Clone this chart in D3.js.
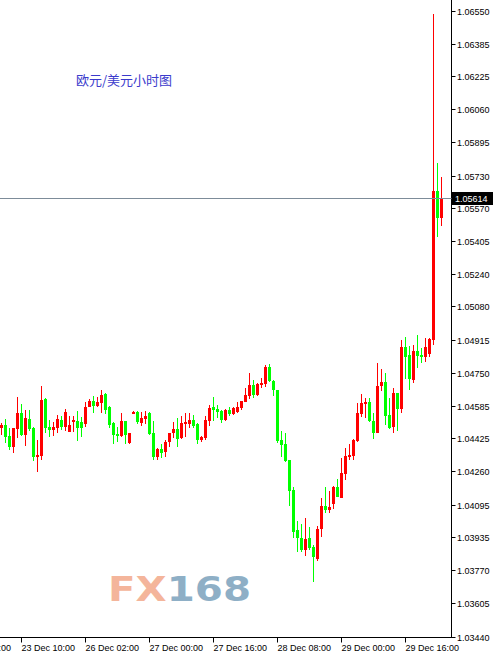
<!DOCTYPE html>
<html>
<head>
<meta charset="utf-8">
<script src="https://cdn.jsdelivr.net/npm/d3@7"></script>
<style>
  html, body { margin: 0; padding: 0; background: #fff; }
  #vis { width: 493px; height: 657px; }
  text { font-family: "Liberation Sans", Arial, sans-serif; }
</style>
</head>
<body>
<div id="vis"></div>
<script>
// EUR/USD hourly candles, bar index 0..110
const opens = [
  1.04478,1.04491,1.04438,1.04380,1.04471,1.04550,1.04441,1.04519,1.04478,1.04333,
  1.04338,1.04620,1.04481,1.04466,1.04478,1.04516,1.04483,1.04458,1.04506,1.04511,
  1.04508,1.04500,1.04582,1.04610,1.04585,1.04602,1.04645,1.04582,1.04500,1.04446,
  1.04436,1.04511,1.04398,1.04545,1.04557,1.04503,1.04521,1.04552,1.04453,1.04333,
  1.04371,1.04355,1.04405,1.04451,1.04471,1.04425,1.04496,1.04495,1.04516,1.04496,
  1.04419,1.04428,1.04513,1.04579,1.04570,1.04560,1.04516,1.04565,1.04545,1.04557,
  1.04577,1.04607,1.04637,1.04690,1.04640,1.04690,1.04693,1.04777,1.04709,1.04665,
  1.04416,1.04395,1.04317,1.04168,1.03969,1.03928,1.03870,1.03928,1.03883,1.03823,
  1.03973,1.04088,1.04068,1.04098,1.04184,1.04132,1.04251,1.04333,1.04338,1.04411,
  1.04549,1.04595,1.04607,1.04511,1.04450,1.04681,1.04703,1.04541,1.04478,1.04648,
  1.04570,1.04880,1.04838,1.04714,1.04860,1.04838,1.04830,1.04843,1.04913,1.05653,
  1.05518
];
const highs = [
  1.04503,1.04521,1.04475,1.04478,1.04632,1.04597,1.04565,1.04565,1.04483,1.04416,
  1.04686,1.04624,1.04516,1.04508,1.04541,1.04536,1.04569,1.04536,1.04536,1.04562,
  1.04532,1.04607,1.04619,1.04635,1.04632,1.04665,1.04651,1.04587,1.04508,1.04483,
  1.04552,1.04513,1.04453,1.04562,1.04560,1.04557,1.04560,1.04557,1.04511,1.04374,
  1.04396,1.04416,1.04453,1.04508,1.04527,1.04536,1.04549,1.04549,1.04541,1.04503,
  1.04438,1.04536,1.04590,1.04630,1.04590,1.04565,1.04568,1.04582,1.04582,1.04607,
  1.04612,1.04673,1.04748,1.04714,1.04701,1.04722,1.04789,1.04793,1.04714,1.04667,
  1.04461,1.04450,1.04319,1.04184,1.04016,1.04000,1.04027,1.03985,1.03894,1.03989,
  1.04127,1.04184,1.04165,1.04187,1.04222,1.04325,1.04375,1.04396,1.04421,1.04602,
  1.04645,1.04624,1.04624,1.04549,1.04797,1.04767,1.04751,1.04624,1.04673,1.04651,
  1.04913,1.04926,1.04883,1.04888,1.04938,1.04871,1.04921,1.04921,1.06532,1.05794,
  1.05724
];
const lows = [
  1.04441,1.04403,1.04366,1.04353,1.04425,1.04436,1.04386,1.04461,1.04314,1.04259,
  1.04317,1.04453,1.04433,1.04436,1.04453,1.04466,1.04461,1.04456,1.04458,1.04413,
  1.04430,1.04480,1.04579,1.04549,1.04579,1.04549,1.04544,1.04478,1.04396,1.04408,
  1.04433,1.04395,1.04396,1.04544,1.04496,1.04488,1.04498,1.04443,1.04317,1.04318,
  1.04328,1.04331,1.04380,1.04428,1.04383,1.04423,1.04430,1.04475,1.04475,1.04395,
  1.04406,1.04416,1.04486,1.04513,1.04527,1.04503,1.04513,1.04537,1.04541,1.04549,
  1.04565,1.04604,1.04620,1.04624,1.04637,1.04673,1.04681,1.04703,1.04637,1.04400,
  1.04333,1.04309,1.04090,1.03928,1.03859,1.03859,1.03842,1.03870,1.03713,1.03817,
  1.03936,1.04052,1.04052,1.04073,1.04132,1.04127,1.04217,1.04317,1.04317,1.04408,
  1.04529,1.04524,1.04508,1.04419,1.04449,1.04661,1.04491,1.04470,1.04450,1.04463,
  1.04552,1.04718,1.04665,1.04701,1.04772,1.04798,1.04805,1.04830,1.04888,1.05423,
  1.05481
];
const closes = [
  1.04491,1.04433,1.04383,1.04475,1.04550,1.04441,1.04527,1.04470,1.04333,1.04341,
  1.04615,1.04478,1.04466,1.04483,1.04521,1.04483,1.04557,1.04491,1.04516,1.04478,
  1.04480,1.04582,1.04610,1.04585,1.04607,1.04640,1.04565,1.04491,1.04441,1.04438,
  1.04511,1.04441,1.04450,1.04555,1.04508,1.04527,1.04536,1.04446,1.04333,1.04371,
  1.04353,1.04405,1.04451,1.04471,1.04421,1.04500,1.04508,1.04516,1.04486,1.04416,
  1.04433,1.04516,1.04577,1.04565,1.04557,1.04516,1.04565,1.04545,1.04574,1.04582,
  1.04610,1.04640,1.04690,1.04640,1.04694,1.04698,1.04777,1.04706,1.04665,1.04411,
  1.04391,1.04312,1.04163,1.03961,1.03928,1.03870,1.03924,1.03879,1.03834,1.03973,
  1.04088,1.04068,1.04085,1.04184,1.04135,1.04254,1.04338,1.04341,1.04416,1.04549,
  1.04602,1.04607,1.04513,1.04453,1.04685,1.04703,1.04536,1.04478,1.04648,1.04570,
  1.04880,1.04830,1.04718,1.04860,1.04833,1.04830,1.04878,1.04916,1.05653,1.05518,
  1.05614
];

// time axis: bar index of each label
const timeLabels = ["22 Dec 18:00", "23 Dec 10:00", "26 Dec 02:00", "27 Dec 00:00",
                    "27 Dec 16:00", "28 Dec 08:00", "29 Dec 00:00", "29 Dec 16:00"];
const timeLabelBars = [-11, 5, 21, 37, 53, 69, 85, 101];

const priceLabels = ["1.06550","1.06385","1.06225","1.06060","1.05895","1.05730","1.05570",
                     "1.05405","1.05240","1.05080","1.04915","1.04750","1.04585","1.04425",
                     "1.04260","1.04095","1.03935","1.03770","1.03605","1.03440"];

const title = "欧元/美元小时图";

const width = 493, height = 657;
const plotRight = 451.5, plotBottom = 637.5;
const upColor = "#ff0000", downColor = "#00ff00";

const svg = d3.select("#vis").append("svg")
  .attr("width", width)
  .attr("height", height)
  .style("display", "block");

svg.append("rect").attr("width", width).attr("height", height).attr("fill", "#fff");

const x = d3.scaleLinear().domain([0, opens.length - 1]).range([1.5, 441.5]);
const y = d3.scaleLinear().domain([1.0344, 1.0655]).range([636.5, 10.5]);

// watermark
const wm = svg.append("text")
  .attr("x", 108).attr("y", 601)
  .attr("textLength", 143)
  .attr("lengthAdjust", "spacingAndGlyphs")
  .style("font-family", "'DejaVu Sans', sans-serif")
  .style("font-weight", "bold")
  .style("font-size", "34px");
wm.append("tspan").attr("fill", "#f4b59b").text("FX");
wm.append("tspan").attr("fill", "#8eafc6").text("168");

// title
svg.append("text")
  .attr("x", 76).attr("y", 85)
  .attr("fill", "#3b3bcc")
  .style("font-family", "'Noto Sans CJK SC', sans-serif")
  .style("font-size", "13px")
  .text(title);

// candles
const bars = d3.range(opens.length);
const g = svg.append("g").attr("shape-rendering", "crispEdges");

g.selectAll(".wick").data(bars).enter()
  .append("line")
  .attr("class", "wick")
  .attr("x1", i => x(i)).attr("x2", i => x(i))
  .attr("y1", i => y(highs[i])).attr("y2", i => y(lows[i]))
  .attr("stroke", i => closes[i] >= opens[i] ? upColor : downColor)
  .attr("stroke-width", 1);

g.selectAll(".body").data(bars).enter()
  .append("rect")
  .attr("class", "body")
  .attr("x", i => x(i) - 1.5)
  .attr("width", 3)
  .attr("y", i => Math.round(y(Math.max(opens[i], closes[i]))))
  .attr("height", i => Math.max(1, Math.round(y(Math.min(opens[i], closes[i])) - y(Math.max(opens[i], closes[i])))))
  .attr("fill", i => closes[i] >= opens[i] ? upColor : downColor);

// frame
svg.append("line")
  .attr("x1", plotRight).attr("x2", plotRight).attr("y1", 0).attr("y2", plotBottom + 0.5)
  .attr("stroke", "#000");
svg.append("line")
  .attr("x1", 0).attr("x2", plotRight).attr("y1", plotBottom).attr("y2", plotBottom)
  .attr("stroke", "#000");

// price axis
const pa = svg.append("g");
priceLabels.forEach(function(lbl){
  let py = Math.round(y(+lbl)) + 0.5;
  pa.append("line")
    .attr("x1", plotRight).attr("x2", plotRight + 4)
    .attr("y1", py).attr("y2", py)
    .attr("stroke", "#000");
  pa.append("text")
    .attr("x", 457).attr("y", py + 3.5)
    .attr("fill", "#000")
    .style("font-size", "9px")
    .text(lbl);
});

// time axis
const ta = svg.append("g");
timeLabelBars.forEach(function(b, i){
  let tx = Math.floor(x(b)) + 0.5;
  ta.append("line")
    .attr("x1", tx).attr("x2", tx)
    .attr("y1", plotBottom).attr("y2", plotBottom + 5)
    .attr("stroke", "#000");
  ta.append("text")
    .attr("x", tx).attr("y", 651)
    .attr("fill", "#000")
    .style("font-size", "9px")
    .text(timeLabels[i]);
});

// current price line and tag
const last = closes[closes.length - 1];
const ly = Math.floor(y(last)) + 0.5;
svg.append("line")
  .attr("x1", 0).attr("x2", plotRight).attr("y1", ly).attr("y2", ly)
  .attr("stroke", "#7d8c99");
svg.append("rect")
  .attr("x", 452).attr("y", ly - 6.5)
  .attr("width", 41).attr("height", 13)
  .attr("fill", "#000");
svg.append("text")
  .attr("x", 455).attr("y", ly + 3.5)
  .attr("fill", "#fff")
  .style("font-size", "9px")
  .text(last.toFixed(5));
</script>
</body>
</html>
